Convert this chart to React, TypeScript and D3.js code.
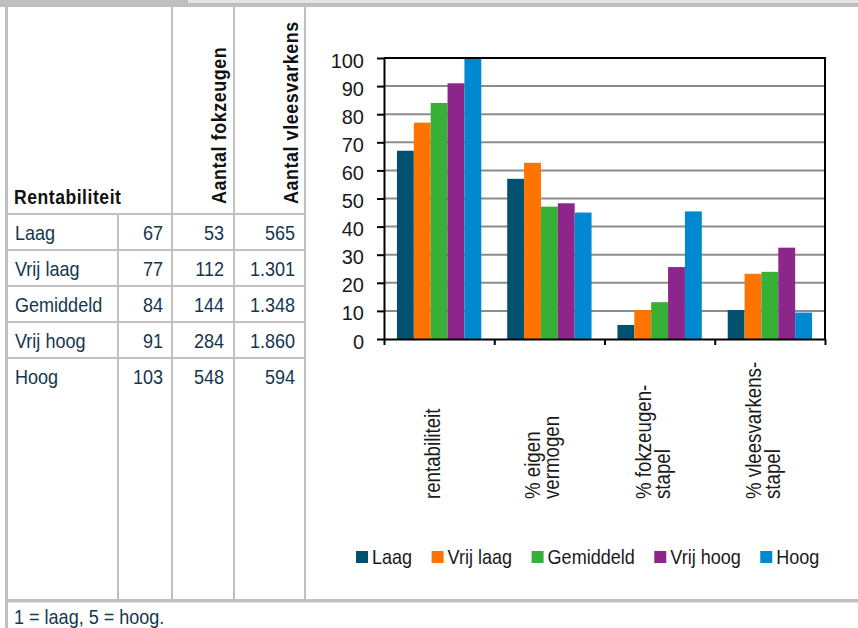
import React, { useEffect, useRef } from "react";
import * as d3 from "d3";

// Profitability classes (rows of the table, series of the chart)
const classes = ["Laag", "Vrij laag", "Gemiddeld", "Vrij hoog", "Hoog"];
const classColors = ["#00516f", "#ff7300", "#36b037", "#8d268b", "#0088d1"];

// Table columns
const rentIndex = [67, 77, 84, 91, 103];
const sows = ["53", "112", "144", "284", "548"];
const pigs = ["565", "1.301", "1.348", "1.860", "594"];

// Chart categories (label lines) and values per class, in category order
const categories = ["rentabiliteit", "% eigen vermogen", "% fokzeugen-stapel", "% vleesvarkens-stapel"];
const categoryLines = [["rentabiliteit"], ["% eigen", "vermogen"], ["% fokzeugen-", "stapel"], ["% vleesvarkens-", "stapel"]];
const valLaag = [67, 57, 5, 10.3];
const valVrijLaag = [77, 62.7, 10.3, 23.2];
const valGemiddeld = [84, 47.1, 13.1, 23.9];
const valVrijHoog = [91, 48.3, 25.6, 32.5];
const valHoog = [103, 45, 45.4, 9.4];
const seriesValues = [valLaag, valVrijLaag, valGemiddeld, valVrijHoog, valHoog];

const yTicks = [0, 10, 20, 30, 40, 50, 60, 70, 80, 90, 100];
const footnote = "1 = laag, 5 = hoog.";

const W = 858;
const H = 628;
const GRID = "#c0c0c0";
const TABLE_TEXT = "#14374f";
const CHART_TEXT = "#1a1a1a";
const FONT = "'Liberation Sans', Arial, sans-serif";
// condensed look: larger size, squeezed horizontally
const TXT_SIZE = 20.5;
const SQUEEZE = 0.88;

function Chart() {
  const ref = useRef<SVGGElement>(null);

  useEffect(() => {
    const g = d3.select(ref.current);
    g.selectAll("*").remove();

    const left = 384, right = 825, top = 58, bottom = 339;
    const x0 = d3.scaleBand<string>().domain(categories).range([left, right]).paddingInner(0.235).paddingOuter(0.1175);
    const x1 = d3.scaleBand<string>().domain(classes).range([0, x0.bandwidth()]);
    const y = d3.scaleLinear().domain([0, 100]).range([bottom, top]).clamp(true);

    // gridlines
    g.append("g")
      .selectAll("line")
      .data(yTicks.filter((t) => t > 0 && t < 100))
      .join("line")
      .attr("x1", left).attr("x2", right)
      .attr("y1", (d) => y(d)).attr("y2", (d) => y(d))
      .attr("stroke", "#8c8c8c").attr("stroke-width", 2);

    // bars
    g.append("g")
      .selectAll("g")
      .data(categories)
      .join("g")
      .attr("transform", (c) => `translate(${x0(c)},0)`)
      .selectAll("rect")
      .data((c, ci) => classes.map((k, si) => ({ k, si, v: seriesValues[si][ci] })))
      .join("rect")
      .attr("x", (d) => x1(d.k)!)
      .attr("width", x1.bandwidth())
      .attr("y", (d) => y(d.v))
      .attr("height", (d) => y(0) - y(d.v))
      .attr("fill", (d) => classColors[d.si]);

    // frame: top and right border
    g.append("path")
      .attr("d", `M${left},${top}H${right}V${bottom}`)
      .attr("fill", "none").attr("stroke", "#000").attr("stroke-width", 2);

    // y axis
    const ya = g.append("g").attr("transform", `translate(${left},0)`)
      .call(d3.axisLeft(y).tickValues(yTicks).tickSize(7).tickSizeOuter(0).tickPadding(13));
    ya.select(".domain").attr("stroke", "#000").attr("stroke-width", 2);
    ya.selectAll(".tick line").attr("stroke", "#000").attr("stroke-width", 2);
    ya.selectAll(".tick text")
      .attr("dy", "0.45em")
      .attr("fill", CHART_TEXT)
      .style("font-family", FONT)
      .style("font-size", "20px");

    // x axis with ticks on category boundaries
    const xb = d3.scaleLinear().domain([0, categories.length]).range([left, right]);
    const xa = g.append("g").attr("transform", `translate(0,${bottom})`)
      .call(d3.axisBottom(xb).tickValues(d3.range(categories.length + 1)).tickFormat(() => "").tickSize(6).tickSizeOuter(0));
    xa.select(".domain").attr("stroke", "#000").attr("stroke-width", 2);
    xa.selectAll(".tick line").attr("stroke", "#000").attr("stroke-width", 2);

    // category labels, rotated
    const lineGap = 19;
    const labelBase = 499;
    categories.forEach((c, ci) => {
      const lines = categoryLines[ci];
      const cx = x0(c)! + x0.bandwidth() / 2 - 6;
      lines.forEach((ln, li) => {
        const bx = cx - (lines.length * lineGap) / 2 + li * lineGap + 16;
        g.append("text")
          .attr("transform", `translate(${bx},${labelBase}) rotate(-90) scale(0.85,1)`)
          .attr("fill", CHART_TEXT)
          .style("font-family", FONT)
          .style("font-size", "22px")
          .text(ln);
      });
    });

    // legend
    const lg = g.append("g");
    let lx = 356;
    const ly = 551;
    classes.forEach((k, i) => {
      lg.append("rect").attr("x", lx).attr("y", ly).attr("width", 12).attr("height", 12).attr("fill", classColors[i]);
      const t = lg.append("text")
        .attr("transform", `translate(${lx + 16},${ly + 13}) scale(${SQUEEZE},1)`)
        .attr("fill", CHART_TEXT)
        .style("font-family", FONT)
        .style("font-size", `${TXT_SIZE}px`)
        .text(k);
      const w = (t.node() as SVGTextElement).getComputedTextLength() * SQUEEZE;
      lx += 16 + w + 19.5;
    });
  }, []);

  return <g ref={ref} />;
}

function Cell({ x, y, anchor, children }: { x: number; y: number; anchor?: string; children: React.ReactNode }) {
  return (
    <text transform={`translate(${x},${y}) scale(${SQUEEZE},1)`} textAnchor={anchor || "start"}>
      {children}
    </text>
  );
}

export default function App() {
  const colX = [8, 118, 172, 234, 305];
  const headTop = 7;
  const headBottom = 214;
  const rowH = 36;
  const tableBottom = 600;
  const rowY = classes.map((_, i) => headBottom + i * rowH);

  return (
    <svg width={W} height={H} style={{ position: "absolute", left: 0, top: 0, background: "#fff" }}>
      {/* title band */}
      <rect x={0} y={0} width={W} height={7} fill="#bfbfbf" />
      <rect x={188} y={0} width={W - 188} height={3} fill="#e4e4e4" />
      {/* left border */}
      <rect x={5} y={0} width={3} height={H} fill={GRID} />

      {/* table grid */}
      <g stroke={GRID} strokeWidth={2}>
        {rowY.map((yy, i) => (
          <line key={i} x1={colX[0]} x2={colX[4]} y1={yy} y2={yy} />
        ))}
        <line x1={colX[1]} x2={colX[1]} y1={headBottom} y2={tableBottom} />
        {[colX[2], colX[3], colX[4]].map((xx, i) => (
          <line key={i} x1={xx} x2={xx} y1={headTop} y2={tableBottom} />
        ))}
      </g>
      <rect x={5} y={599} width={W - 5} height={3.5} fill={GRID} />

      {/* table header */}
      <g fontFamily={FONT} fontWeight="bold" fontSize={19.5} fill="#111" letterSpacing={0.6}>
        <text transform="translate(14,204) scale(0.9,1)">Rentabiliteit</text>
        <text transform="translate(226,204) rotate(-90) scale(0.92,1)">Aantal fokzeugen</text>
        <text transform="translate(298,204) rotate(-90) scale(0.92,1)">Aantal vleesvarkens</text>
      </g>

      {/* table body */}
      <g fontFamily={FONT} fontSize={TXT_SIZE} fill={TABLE_TEXT}>
        {classes.map((k, i) => (
          <g key={k}>
            <Cell x={15} y={rowY[i] + 26}>{k}</Cell>
            <Cell x={163} y={rowY[i] + 26} anchor="end">{rentIndex[i]}</Cell>
            <Cell x={224} y={rowY[i] + 26} anchor="end">{sows[i]}</Cell>
            <Cell x={295} y={rowY[i] + 26} anchor="end">{pigs[i]}</Cell>
          </g>
        ))}
      </g>

      <Chart />

      <g fontFamily={FONT} fontSize={TXT_SIZE} fill={TABLE_TEXT}>
        <Cell x={14} y={624}>{footnote}</Cell>
      </g>
    </svg>
  );
}
